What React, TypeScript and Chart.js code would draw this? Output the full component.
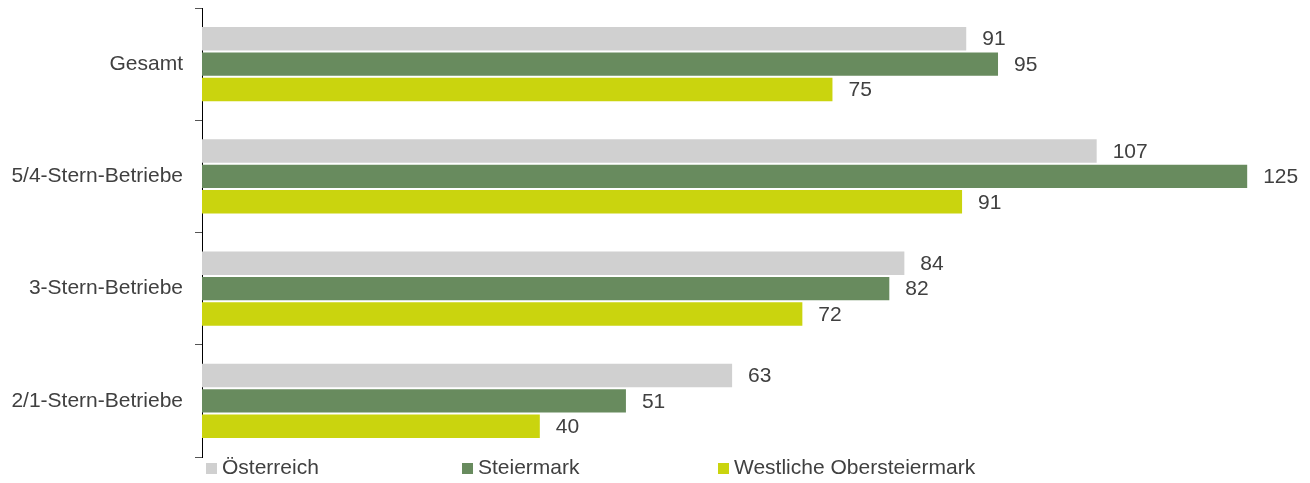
import React, { useEffect, useRef } from "react";
import { Chart, registerables } from "chart.js";

Chart.register(...registerables);

const categories = ["Gesamt", "5/4-Stern-Betriebe", "3-Stern-Betriebe", "2/1-Stern-Betriebe"];
const seriesNames = ["Österreich", "Steiermark", "Westliche Obersteiermark"];
const oesterreich = [91.4, 107.0, 84.0, 63.4];
const steiermark = [95.2, 125.0, 82.2, 50.7];
const westlicheObersteiermark = [75.4, 90.9, 71.8, 40.4];
const valueLabelsText = ["91", "107", "84", "63", "95", "125", "82", "51", "75", "91", "72", "40"];
const seriesColors = ["#d0d0d0", "#688b5e", "#cad40e"];

const FONT = "'Liberation Sans', Arial, sans-serif";
const TEXT = "#404040";

const valueLabels = {
  id: "valueLabels",
  afterDatasetsDraw(chart: any) {
    const ctx = chart.ctx;
    ctx.save();
    ctx.font = `21px ${FONT}`;
    ctx.fillStyle = TEXT;
    ctx.textAlign = "left";
    ctx.textBaseline = "middle";
    chart.data.datasets.forEach((ds: any, di: number) => {
      const meta = chart.getDatasetMeta(di);
      meta.data.forEach((bar: any, i: number) => {
        ctx.fillText(valueLabelsText[di * categories.length + i], bar.x + 16, bar.y + 1);
      });
    });
    ctx.restore();
  },
};

const customLegend = {
  id: "customLegend",
  afterDraw(chart: any) {
    const ctx = chart.ctx;
    ctx.save();
    ctx.font = `21px ${FONT}`;
    ctx.textAlign = "left";
    ctx.textBaseline = "middle";
    const y = 467;
    chart.data.datasets.forEach((ds: any, i: number) => {
      const x = 206 + i * 256;
      ctx.fillStyle = ds.backgroundColor;
      ctx.fillRect(x, y - 4, 11, 11);
      ctx.fillStyle = TEXT;
      ctx.fillText(ds.label, x + 16, y + 1);
    });
    ctx.restore();
  },
};

export default function App() {
  const ref = useRef<HTMLCanvasElement | null>(null);
  useEffect(() => {
    if (!ref.current) return;
    const values = [oesterreich, steiermark, westlicheObersteiermark];
    const chart = new Chart(ref.current, {
      type: "bar",
      data: {
        labels: categories,
        datasets: seriesNames.map((name, i) => ({
          label: name,
          data: values[i],
          backgroundColor: seriesColors[i],
          borderWidth: 0,
          categoryPercentage: 0.68,
          barPercentage: 0.92,
        })),
      },
      plugins: [valueLabels, customLegend],
      options: {
        indexAxis: "y",
        animation: false,
        responsive: true,
        maintainAspectRatio: false,
        layout: { padding: { top: 8, bottom: 26, right: 21, left: 0 } },
        plugins: {
          legend: { display: false },
          title: { display: false },
          tooltip: { enabled: false },
        },
        scales: {
          x: { display: false, min: 0, max: 130 },
          y: {
            afterFit: (scale: any) => {
              scale.width = 202;
              scale.paddingTop = 0;
              scale.paddingBottom = 0;
            },
            border: { display: true, color: "#000000", width: 1 },
            grid: {
              display: true,
              offset: true,
              drawOnChartArea: false,
              drawTicks: true,
              tickLength: 7,
              tickColor: "#555555",
            },
            ticks: {
              color: TEXT,
              padding: 12,
              font: { family: FONT, size: 21 },
            },
          },
        },
      },
    });
    return () => chart.destroy();
  }, []);
  return (
    <div style={{ position: "absolute", left: 0, top: 0, width: 1310, height: 483, background: "#fff" }}>
      <canvas ref={ref} />
    </div>
  );
}
